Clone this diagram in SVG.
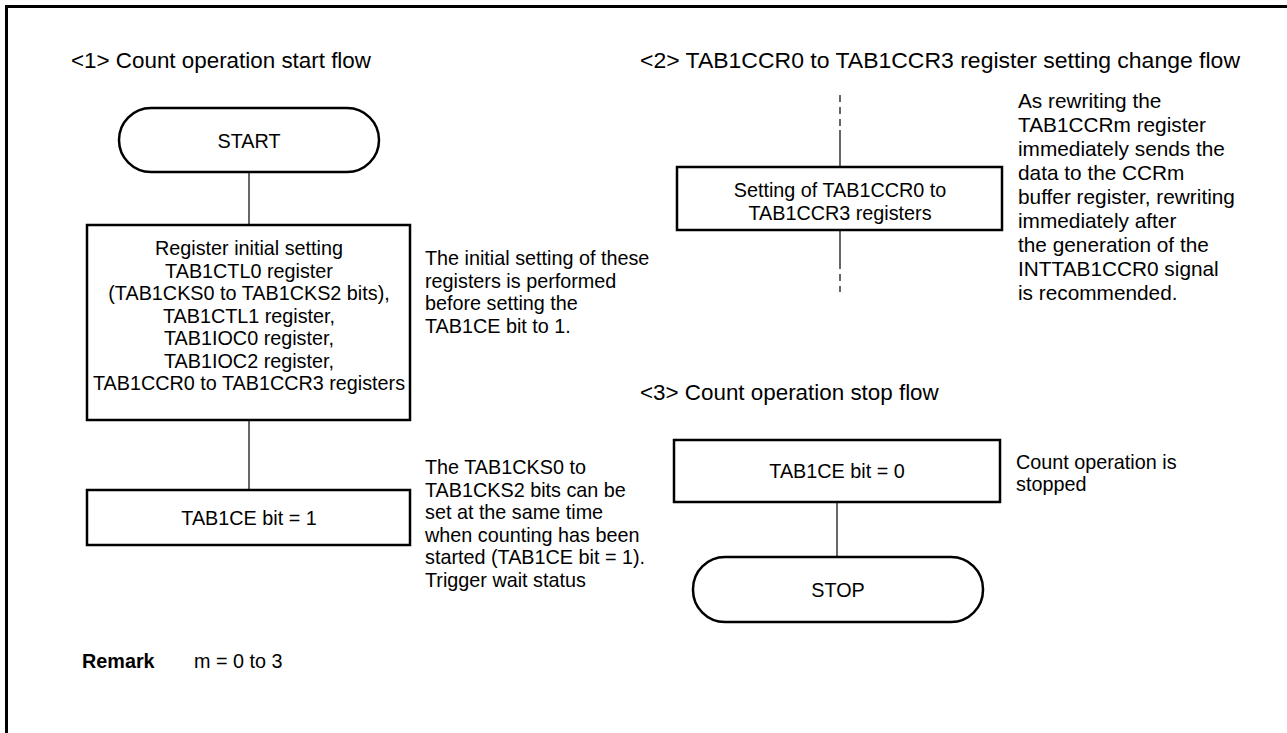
<svg xmlns="http://www.w3.org/2000/svg" width="1287" height="733" viewBox="0 0 1287 733">
<style>
text{font-family:"Liberation Sans",Arial,sans-serif;fill:#000}
.t{font-size:22.4px}
.b{font-size:19.8px}
.n{font-size:20.8px}
.c{text-anchor:middle}
.box{fill:#fff;stroke:#000;stroke-width:2.5}
.ln{stroke:#000;stroke-width:1.2;fill:none}
.dash{stroke:#000;stroke-width:1.2;fill:none;stroke-dasharray:7 5}
</style>
<rect width="1287" height="733" fill="#fff"/>
<path d="M6.5 733 V6.5 H1287" fill="none" stroke="#000" stroke-width="3"/>
<g id="titles">
<text class="t" x="71" y="68">&lt;1&gt; Count operation start flow</text>
<text class="t" x="640" y="68" textLength="600" lengthAdjust="spacingAndGlyphs">&lt;2&gt; TAB1CCR0 to TAB1CCR3 register setting change flow</text>
<text class="t" x="640" y="400">&lt;3&gt; Count operation stop flow</text>
</g>
<g id="connectors">
<line class="ln" x1="249" y1="172" x2="249" y2="225"/>
<line class="ln" x1="249" y1="420" x2="249" y2="490"/>
<line class="dash" x1="840" y1="95" x2="840" y2="130"/>
<line class="ln" x1="840" y1="130" x2="840" y2="167"/>
<line class="ln" x1="840" y1="230" x2="840" y2="262"/>
<line class="dash" x1="840" y1="262" x2="840" y2="292"/>
<line class="ln" x1="837" y1="502" x2="837" y2="557"/>
</g>
<g id="start">
<rect class="box" x="119" y="108" width="260" height="64" rx="32" ry="32"/>
<text class="b c" x="249" y="148">START</text>
</g>
<g id="init">
<rect class="box" x="87" y="225" width="323" height="195"/>
<text class="b c" x="249" y="255">Register initial setting</text>
<text class="b c" x="249" y="277.5">TAB1CTL0 register</text>
<text class="b c" x="249" y="300">(TAB1CKS0 to TAB1CKS2 bits),</text>
<text class="b c" x="249" y="322.5">TAB1CTL1 register,</text>
<text class="b c" x="249" y="345">TAB1IOC0 register,</text>
<text class="b c" x="249" y="367.5">TAB1IOC2 register,</text>
<text class="b c" x="249" y="390">TAB1CCR0 to TAB1CCR3 registers</text>
</g>
<g id="note1">
<text class="b" x="425" y="265">The initial setting of these</text>
<text class="b" x="425" y="287.5">registers is performed</text>
<text class="b" x="425" y="310">before setting the</text>
<text class="b" x="425" y="332.5">TAB1CE bit to 1.</text>
</g>
<g id="ce1">
<rect class="box" x="87" y="490" width="323" height="55"/>
<text class="b c" x="249" y="525">TAB1CE bit = 1</text>
</g>
<g id="note2">
<text class="b" x="425" y="474">The TAB1CKS0 to</text>
<text class="b" x="425" y="496.5">TAB1CKS2 bits can be</text>
<text class="b" x="425" y="519">set at the same time</text>
<text class="b" x="425" y="541.5">when counting has been</text>
<text class="b" x="425" y="564">started (TAB1CE bit = 1).</text>
<text class="b" x="425" y="586.5">Trigger wait status</text>
</g>
<g id="ccr">
<rect class="box" x="677" y="167" width="325" height="63"/>
<text class="b c" x="840" y="197">Setting of TAB1CCR0 to</text>
<text class="b c" x="840" y="219.5">TAB1CCR3 registers</text>
</g>
<g id="note3">
<text class="n" x="1018" y="108">As rewriting the</text>
<text class="n" x="1018" y="132">TAB1CCRm register</text>
<text class="n" x="1018" y="156">immediately sends the</text>
<text class="n" x="1018" y="180">data to the CCRm</text>
<text class="n" x="1018" y="204">buffer register, rewriting</text>
<text class="n" x="1018" y="228">immediately after</text>
<text class="n" x="1018" y="252">the generation of the</text>
<text class="n" x="1018" y="276">INTTAB1CCR0 signal</text>
<text class="n" x="1018" y="300">is recommended.</text>
</g>
<g id="ce0">
<rect class="box" x="674" y="440" width="326" height="62"/>
<text class="b c" x="837" y="478">TAB1CE bit = 0</text>
</g>
<g id="note4">
<text class="b" x="1016" y="469">Count operation is</text>
<text class="b" x="1016" y="491">stopped</text>
</g>
<g id="stop">
<rect class="box" x="693" y="557" width="290" height="65" rx="32" ry="32"/>
<text class="b c" x="838" y="597">STOP</text>
</g>
<g id="remark">
<text class="b" x="82" y="668" font-weight="bold">Remark</text>
<text class="b" x="194" y="668">m = 0 to 3</text>
</g>
</svg>
